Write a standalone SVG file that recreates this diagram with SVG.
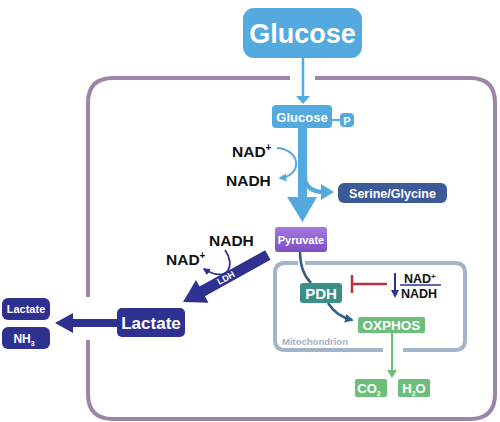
<svg xmlns="http://www.w3.org/2000/svg" width="500" height="422" viewBox="0 0 500 422">
<style>
text{font-family:"Liberation Sans",Arial,sans-serif;font-weight:bold}
.w{fill:#fff}
.k{fill:#111}
.blue{fill:#54aadf}
.navy{fill:#2e3190}
</style>
<defs>
<marker id="ab" viewBox="0 0 10 10" refX="8" refY="5" markerWidth="4" markerHeight="4" orient="auto"><path d="M0,0L10,5L0,10z" fill="#54aadf"/></marker>
<marker id="an" viewBox="0 0 10 10" refX="8" refY="5" markerWidth="4" markerHeight="4" orient="auto"><path d="M0,0L10,5L0,10z" fill="#2e3190"/></marker>
<marker id="at" viewBox="0 0 10 10" refX="8" refY="5" markerWidth="3.5" markerHeight="3.5" orient="auto"><path d="M0,0L10,5L0,10z" fill="#2e5f86"/></marker>
<linearGradient id="pg" x1="0" y1="0" x2="0" y2="1"><stop offset="0" stop-color="#a57ae0"/><stop offset="1" stop-color="#7d4fc4"/></linearGradient>
</defs>
<!-- cell membrane -->
<g id="cell" fill="none" stroke="#9b85a8" stroke-width="4">
<path d="M290 78 H113 Q88 78 88 103 V297 M88 340 V394 Q88 419 113 419 H470 Q495 419 495 394 V103 Q495 78 470 78 H315"/>
</g>
<!-- mitochondrion -->
<g id="mitochondrion">
<path d="M298 263 H285 Q275 263 275 273 V340 Q275 350 285 350 H383 M403 350 H455 Q465 350 465 340 V273 Q465 263 455 263 H305" fill="none" stroke="#a2b5c9" stroke-width="4"/>
<text x="282" y="345" font-size="9.5" fill="#9fb3c8">Mitochondrion</text>
</g>
<g id="connectors">
<line x1="303" y1="58" x2="303" y2="98" stroke="#54aadf" stroke-width="2.5"/>
<path d="M296 96 L310 96 L303 104 z" class="blue"/>
<line x1="332" y1="120" x2="340" y2="120" stroke="#54aadf" stroke-width="2"/>
<!-- main thick arrow -->
<path d="M298 128 H307 V197 H317 L302.5 222 L287 197 H298 z" class="blue"/>
<path d="M277 148 C302 150 302 176 280 178" fill="none" stroke="#54aadf" stroke-width="2" marker-end="url(#ab)"/>
<path d="M305 180 Q308 192 324 192" fill="none" stroke="#54aadf" stroke-width="4.5"/>
<path d="M321 184 L334 192 L321 200 z" class="blue"/>
<!-- LDH arrow -->
<g transform="translate(183,302) rotate(151)">
<path d="M-97 -5.5 H-22 V-13 L0 0 L-22 13 V5.5 H-97 z" class="navy"/>
</g>
<text x="226" y="281" font-size="9" class="w" text-anchor="middle" transform="rotate(-29 226 278)">LDH</text>
<path d="M225 250 C236 265 228 284 204 269" fill="none" stroke="#2e3190" stroke-width="1.8" marker-end="url(#an)"/>
<!-- Lactate export -->
<path d="M117 319 H73 V313 L55 323 L73 333 V327 H117 z" class="navy"/>
<!-- mitochondrial -->
<path d="M300 252 Q300 272 311 283" fill="none" stroke="#2e5f86" stroke-width="2.5"/>
<path d="M328 303 Q336 316 352 320" fill="none" stroke="#2e5f86" stroke-width="2.5" marker-end="url(#at)"/>
<path d="M352 275 V293 M352 284 H387" fill="none" stroke="#c0303a" stroke-width="2.5"/>
<line x1="395" y1="273" x2="395" y2="292" stroke="#2e3190" stroke-width="2"/>
<path d="M391 290 L399 290 L395 298 z" class="navy"/>
<line x1="400" y1="285" x2="441" y2="285" stroke="#2e3190" stroke-width="1.5"/>
<line x1="392" y1="332" x2="392" y2="372" stroke="#6bbf7a" stroke-width="2"/>
<path d="M387 370 L397 370 L392 378 z" fill="#6bbf7a"/>
</g>
<g id="glucose">
<rect x="243" y="8" width="119" height="50" rx="11" class="blue"/>
<text x="302.5" y="43" font-size="27" class="w" text-anchor="middle">Glucose</text>
</g>
<g id="glucose-p">
<rect x="272" y="105" width="60" height="23" rx="4" class="blue"/>
<text x="302" y="121.5" font-size="13" class="w" text-anchor="middle">Glucose</text>
<rect x="340" y="113" width="14" height="14" rx="4" class="blue"/>
<text x="347" y="124.5" font-size="11" class="w" text-anchor="middle">P</text>
</g>
<g id="nad-top">
<text x="232" y="157" font-size="15.5" class="k">NAD<tspan font-size="10" dy="-6">+</tspan></text>
</g>
<g id="nadh-top">
<text x="226" y="186" font-size="15.5" class="k">NADH</text>
</g>
<g id="serine-glycine">
<rect x="338" y="183" width="109" height="20" rx="6" fill="#3d5a98"/>
<text x="392.5" y="198" font-size="12.5" class="w" text-anchor="middle">Serine/Glycine</text>
</g>
<g id="pyruvate">
<rect x="275" y="227" width="52" height="25" rx="3" fill="url(#pg)"/>
<text x="301" y="243.5" font-size="11" class="w" text-anchor="middle">Pyruvate</text>
</g>
<g id="nadh-ldh">
<text x="209" y="246" font-size="15.5" class="k">NADH</text>
</g>
<g id="nad-ldh">
<text x="166" y="265" font-size="15.5" class="k">NAD<tspan font-size="10" dy="-6">+</tspan></text>
</g>
<g id="lactate">
<rect x="117" y="308" width="68" height="29" rx="5" class="navy"/>
<text x="151" y="329" font-size="17" class="w" text-anchor="middle">Lactate</text>
</g>
<g id="lactate-out">
<rect x="2" y="298" width="48" height="22" rx="6" class="navy"/>
<text x="26" y="313" font-size="11" class="w" text-anchor="middle">Lactate</text>
</g>
<g id="nh3-out">
<rect x="2" y="327" width="48" height="22" rx="6" class="navy"/>
<text x="24" y="342.5" font-size="12" class="w" text-anchor="middle">NH<tspan font-size="7" dy="3">3</tspan></text>
</g>
<g id="pdh">
<rect x="300" y="283" width="42" height="20" rx="3" fill="#3a8f88"/>
<text x="321" y="299" font-size="15" class="w" text-anchor="middle">PDH</text>
</g>
<g id="nad-ratio">
<text x="404" y="283" font-size="12.5" class="k">NAD<tspan font-size="8" dy="-4">+</tspan></text>
<text x="401" y="298" font-size="12.5" class="k">NADH</text>
</g>
<g id="oxphos">
<rect x="358" y="317" width="67" height="16" rx="2" fill="#6bbf7a"/>
<text x="391.5" y="330" font-size="13.5" class="w" text-anchor="middle">OXPHOS</text>
</g>
<g id="co2">
<rect x="355" y="379" width="32" height="18" rx="2" fill="#6bbf7a"/>
<text x="369" y="393" font-size="13" class="w" text-anchor="middle">CO<tspan font-size="7" dy="3">2</tspan></text>
</g>
<g id="h2o">
<rect x="398" y="379" width="32" height="18" rx="2" fill="#6bbf7a"/>
<text x="414" y="393" font-size="13" class="w" text-anchor="middle">H<tspan font-size="7" dy="3">2</tspan><tspan dy="-3">O</tspan></text>
</g>
</svg>
